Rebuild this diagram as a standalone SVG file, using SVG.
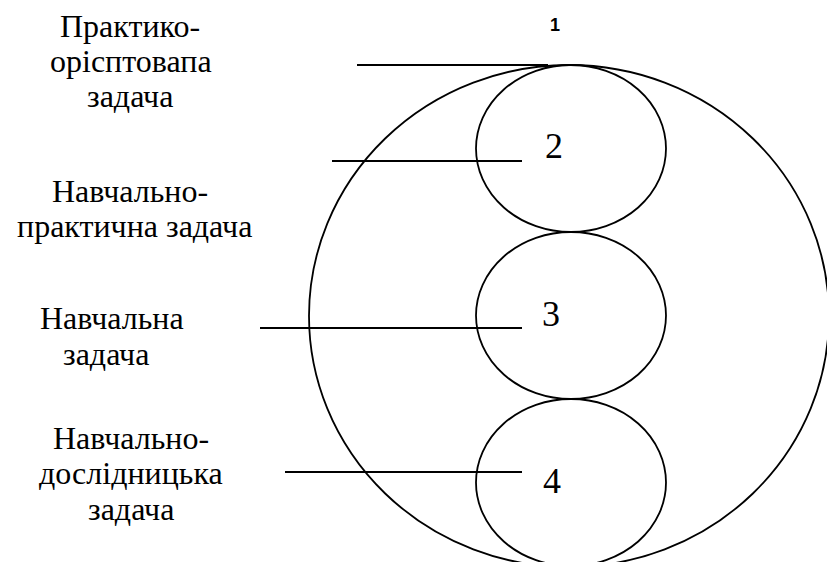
<svg xmlns="http://www.w3.org/2000/svg" width="827" height="562" viewBox="0 0 827 562">
<defs>
<style>
.shape{fill:none;stroke:#000;stroke-width:1.8}
.ln{stroke:#000;stroke-width:1.8}
</style>
</defs>
<rect width="827" height="562" fill="#fff"/>
<g id="node1">
<ellipse class="shape" cx="569" cy="316" rx="260" ry="251"/>
<text x="550" y="31" font-family="Liberation Sans" font-size="18" font-weight="bold">1</text>
</g>
<g id="node2">
<ellipse class="shape" cx="571" cy="148.5" rx="95" ry="83.5"/>
<text x="545" y="158" font-family="Liberation Serif" font-size="36">2</text>
</g>
<g id="node3">
<ellipse class="shape" cx="571" cy="315.5" rx="95" ry="83.5"/>
<text x="542" y="326" font-family="Liberation Serif" font-size="36">3</text>
</g>
<g id="node4">
<ellipse class="shape" cx="571" cy="482.5" rx="95" ry="83.5"/>
<text x="543" y="493" font-family="Liberation Serif" font-size="36">4</text>
</g>
<g id="label1">
<text x="60" y="37" font-family="Liberation Serif" font-size="32">Практико-</text>
<text x="50" y="72" font-family="Liberation Serif" font-size="32">орісптовапа</text>
<text x="87" y="107" font-family="Liberation Serif" font-size="32">задача</text>
</g>
<g id="label2">
<text x="52" y="202" font-family="Liberation Serif" font-size="32">Навчально-</text>
<text x="17" y="237" font-family="Liberation Serif" font-size="32">практична задача</text>
</g>
<g id="label3">
<text x="40" y="329" font-family="Liberation Serif" font-size="32">Навчальна</text>
<text x="63" y="365" font-family="Liberation Serif" font-size="32">задача</text>
</g>
<g id="label4">
<text x="53" y="449" font-family="Liberation Serif" font-size="32">Навчально-</text>
<text x="39" y="484" font-family="Liberation Serif" font-size="32">дослідницька</text>
<text x="88" y="520" font-family="Liberation Serif" font-size="32">задача</text>
</g>
<g id="connectors">
<line class="ln" x1="357" y1="65" x2="548" y2="65"/>
<line class="ln" x1="332" y1="161" x2="522" y2="161"/>
<line class="ln" x1="260" y1="328" x2="522" y2="328"/>
<line class="ln" x1="285" y1="472" x2="522" y2="472"/>
</g>
</svg>
